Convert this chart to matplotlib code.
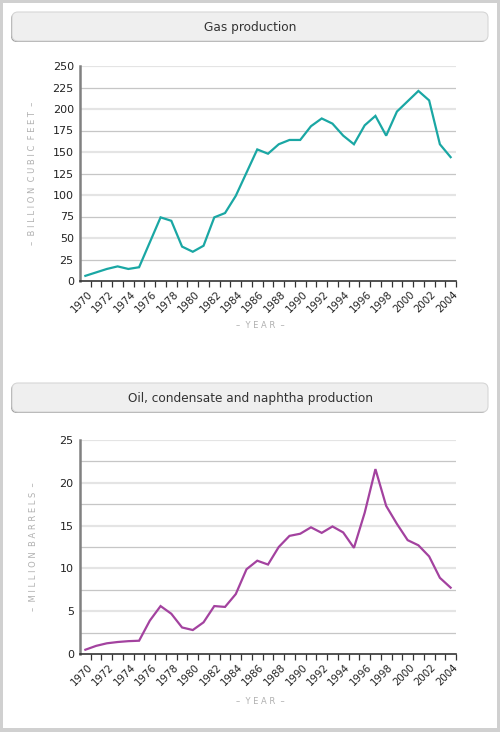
import matplotlib
matplotlib.use("Agg")
import matplotlib.pyplot as plt
from matplotlib.patches import FancyBboxPatch, Rectangle
from matplotlib.ticker import FixedLocator, NullFormatter

years = list(range(1970, 2005))

gas_values = [6, 10, 14, 17, 14, 16, 45, 74, 70, 40, 34, 41, 74, 79, 99, 126, 153, 148,
              159, 164, 164, 180, 189, 183, 169, 159, 181, 192, 169, 197, 209, 221, 210, 159, 144]

oil_values = [0.5, 0.95, 1.25, 1.4, 1.5, 1.55, 3.9, 5.6, 4.7, 3.1, 2.8, 3.7, 5.6, 5.5, 7.0, 9.9,
              10.9, 10.45, 12.5, 13.8, 14.05, 14.8, 14.15, 14.9, 14.2, 12.4, 16.5, 21.6, 17.3,
              15.2, 13.3, 12.7, 11.4, 8.9, 7.75]

W, H = 500, 732
plt.rcParams['font.family'] = ['DejaVu Sans']

fig = plt.figure(figsize=(W / 100, H / 100), dpi=100)
fig.patch.set_facecolor('#d0d0d0')
fig.patches.append(Rectangle((3 / W, 4 / H), 494 / W, 725 / H, transform=fig.transFigure,
                             facecolor='white', edgecolor='none', zorder=-5))


def spaced(s):
    # letter-spaced caps, as in the original axis titles
    return '  '.join(' '.join(word) for word in s.split())


def title_bar(top, text):
    # shadow then the light box
    x0, x1 = 12, 488
    h = 29
    for dx, dy, fc, ec in [(-1, 1, '#9a9a9a', 'none'), (0, 0, '#efefef', '#d6d6d6')]:
        fig.patches.append(FancyBboxPatch(((x0 + dx) / W, 1 - (top + h + dy) / H),
                                          (x1 - x0) / W, h / H,
                                          boxstyle="round,pad=0,rounding_size=0.012",
                                          transform=fig.transFigure, facecolor=fc,
                                          edgecolor=ec, linewidth=0.8, zorder=-4,
                                          mutation_aspect=W / H))
    fig.text(0.5, 1 - (top + h / 2 + 0.5) / H, text, ha='center', va='center',
             fontsize=8.7, color='#333333', zorder=3)


def draw_panel(top, bottom, values, ymax, step, label_every, color, ylabel, xlabel_y):
    ax = fig.add_axes([80 / W, 1 - bottom / H, 376 / W, (bottom - top) / H])
    ax.set_facecolor('none')
    x = list(range(len(years)))
    ax.plot(x, values, color=color, linewidth=1.6, zorder=3, solid_joinstyle='miter')
    ax.set_xlim(-0.5, len(years) - 0.5)
    ax.set_ylim(0, ymax)

    # grid lines: thick light and thin darker, alternating from the top
    n = int(round(ymax / step))
    for k in range(1, n + 1):
        if (n - k) % 2 == 0:
            ax.axhline(k * step, color='#e4e4e4', linewidth=1.6, zorder=1)
        else:
            ax.axhline(k * step, color='#c6c6c6', linewidth=0.9, zorder=1)

    ticks = [k * step for k in range(0, n + 1, label_every)]
    ax.set_yticks(ticks)
    ax.set_yticklabels([f"{t:g}" for t in ticks])
    ax.tick_params(axis='y', length=0, pad=4.5, labelsize=8, labelcolor='#222222')

    major = [i + 0.5 for i in range(0, len(years), 2)]
    minor = [i + 0.5 for i in range(1, len(years), 2)]
    ax.xaxis.set_major_locator(FixedLocator(major))
    ax.xaxis.set_minor_locator(FixedLocator(minor))
    ax.set_xticklabels([str(y) for y in years[::2]])
    ax.xaxis.set_minor_formatter(NullFormatter())
    ax.tick_params(axis='x', which='both', direction='out', length=4, width=0.9,
                   color='#333333')
    ax.tick_params(axis='x', which='major', pad=4.5, labelsize=7.4, labelcolor='#222222')
    for lbl in ax.get_xticklabels():
        lbl.set_rotation(45)
        lbl.set_ha('right')
        lbl.set_va('center')
        lbl.set_rotation_mode('anchor')

    for side in ['top', 'right']:
        ax.spines[side].set_visible(False)
    ax.spines['left'].set_color('#808080')
    ax.spines['left'].set_linewidth(1.8)
    ax.spines['bottom'].set_color('#333333')
    ax.spines['bottom'].set_linewidth(1.2)

    fig.text(33 / W, 1 - (top + bottom) / 2 / H, spaced('– ' + ylabel + ' –'),
             rotation=90, ha='center', va='center', fontsize=6, color='#b0b0b0')
    fig.text(260 / W, 1 - xlabel_y / H, spaced('– YEAR –'), ha='center', va='center',
             fontsize=6, color='#b0b0b0')
    return ax


title_bar(12, "Gas production")
draw_panel(66, 281, gas_values, 250, 25, 1, '#1aa7a4', 'BILLION CUBIC FEET', 326)

title_bar(383, "Oil, condensate and naphtha production")
draw_panel(440, 654, oil_values, 25, 2.5, 2, '#a3429f', 'MILLION BARRELS', 702)

fig.savefig("out.png", dpi=100, facecolor=fig.get_facecolor())
